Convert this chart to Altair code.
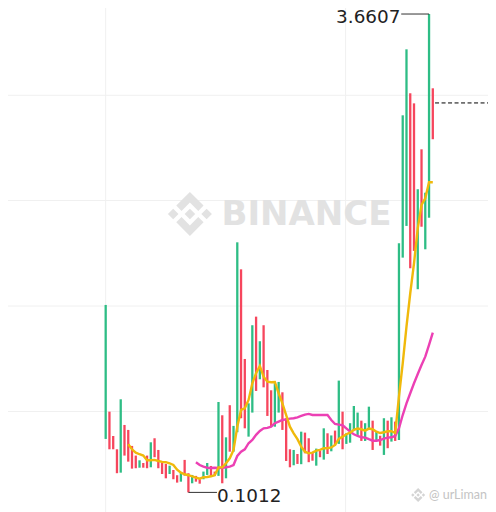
import altair as alt
import pandas as pd

tops = [1.496,0.702,0.521,0.422,0.794,0.603,0.566,0.447,0.375,0.340,0.320,0.375,0.474,0.504,0.417,0.323,0.313,0.300,0.268,0.229,
0.248,0.343,0.244,0.231,0.224,0.199,0.256,0.320,0.298,0.256,0.774,0.675,0.511,0.750,0.596,1.962,1.761,1.094,0.764,1.345,
1.409,1.226,1.345,1.012,0.861,0.913,0.923,0.846,0.653,0.422,0.417,0.387,0.553,0.546,0.504,0.400,0.427,0.410,0.578,0.541,
0.525,0.561,0.933,0.702,0.541,0.616,0.744,0.695,0.635,0.616,0.739,0.635,0.553,0.523,0.653,0.635,0.660,0.628,1.955,2.907,
3.398,3.071,2.996,2.357,2.654,2.331,3.6607,3.108]
bottoms = [0.499,0.422,0.422,0.244,0.248,0.375,0.330,0.278,0.281,0.285,0.285,0.281,0.288,0.363,0.281,0.238,0.206,0.238,0.199,0.174,
0.181,0.226,0.1012,0.169,0.181,0.166,0.199,0.231,0.218,0.224,0.224,0.169,0.206,0.404,0.404,0.549,0.653,0.578,0.516,0.695,
0.856,0.943,0.883,0.670,0.590,0.590,0.695,0.566,0.335,0.288,0.303,0.313,0.311,0.392,0.326,0.337,0.300,0.363,0.345,0.387,
0.407,0.450,0.462,0.422,0.462,0.471,0.561,0.529,0.484,0.484,0.566,0.417,0.491,0.449,0.380,0.430,0.479,0.484,0.491,1.848,
2.084,1.769,1.898,1.613,2.078,1.910,2.145,2.729]
up_candles = [0,4,9,12,17,20,23,26,27,30,32,34,35,38,39,41,45,46,50,52,56,58,60,62,64,65,66,67,69,70,72,74,76,78,79,80,83,85,86]

ma7 = [0.459,0.422,0.397,0.385,0.375,0.340,0.340,0.343,0.335,0.328,0.326,0.318,0.305,0.270,0.248,0.236,0.229,0.221,0.211,0.203,
0.214,0.216,0.221,0.229,0.287,0.288,0.318,0.355,0.417,0.590,0.715,0.727,0.789,0.913,0.988,1.042,0.962,0.925,0.921,0.923,
0.839,0.764,0.677,0.590,0.541,0.497,0.442,0.404,0.392,0.397,0.412,0.417,0.430,0.430,0.436,0.454,0.499,0.516,0.534,0.546,
0.566,0.576,0.571,0.561,0.576,0.571,0.553,0.543,0.549,0.556,0.556,0.543,0.814,1.062,1.334,1.583,1.806,2.066,2.240,2.290,
2.409,2.409]
ma25 = [0.326,0.305,0.293,0.285,0.283,0.285,0.283,0.285,0.288,0.293,0.305,0.372,0.404,0.422,0.467,0.491,0.529,0.558,0.578,0.581,
0.590,0.616,0.628,0.640,0.645,0.650,0.653,0.660,0.670,0.680,0.685,0.677,0.677,0.677,0.677,0.677,0.640,0.610,0.605,0.601,
0.578,0.553,0.534,0.521,0.511,0.509,0.497,0.486,0.486,0.491,0.501,0.509,0.511,0.521,0.578,0.677,0.764,0.839,0.913,0.982,
1.049,1.111,1.198,1.290]

grid_prices = [0.703,1.488,2.273,3.056]
grid_times = [0,63.8]
high_label = "3.6607"
low_label = "0.1012"
current_price = 2.999

LOGO = ("M0 -1L0.62 -0.38L0.38 -0.14L0 -0.52L-0.38 -0.14L-0.62 -0.38Z"
        "M0 1L0.62 0.38L0.38 0.14L0 0.52L-0.38 0.14L-0.62 0.38Z"
        "M0 -0.24L0.24 0L0 0.24L-0.24 0Z"
        "M-0.76 -0.24L-0.52 0L-0.76 0.24L-1 0Z"
        "M0.76 -0.24L1 0L0.76 0.24L0.52 0Z")

xs = alt.Scale(domain=[-25.98, 101.68], nice=False, zero=False)
ys = alt.Scale(domain=[-0.0447, 3.7055], nice=False, zero=False)
X = lambda f="i": alt.X(f, type="quantitative", scale=xs, axis=None)
Y = lambda f="v": alt.Y(f, type="quantitative", scale=ys, axis=None)

candles = pd.DataFrame({"i": range(len(tops)), "top": tops, "bottom": bottoms,
                        "dir": ["up" if i in up_candles else "down" for i in range(len(tops))]})
line7 = pd.DataFrame({"i": range(6, 6 + len(ma7)), "v": ma7})
line25 = pd.DataFrame({"i": range(24, 24 + len(ma25)), "v": ma25})

GRID = "#f0f0f0"
hgrid = alt.Chart(pd.DataFrame({"v": grid_prices})).mark_rule(color=GRID, strokeWidth=1).encode(y=Y())
vgrid = alt.Chart(pd.DataFrame({"i": grid_times})).mark_rule(color=GRID, strokeWidth=1).encode(x=X())

wm_text = alt.Chart(pd.DataFrame({"i": [30.8], "v": [2.165], "t": ["BINANCE"]})).mark_text(
    align="left", baseline="middle", font="DejaVu Sans", fontWeight="bold", fontSize=34, color="#e2e2e2"
).encode(x=X(), y=Y(), text="t:N")
wm_logo = alt.Chart(pd.DataFrame({"i": [22.4], "v": [2.173]})).mark_point(
    shape=LOGO, filled=True, color="#e2e2e2", size=1936, opacity=1
).encode(x=X(), y=Y())

bars = alt.Chart(candles).mark_rule(strokeWidth=2.3).encode(
    x=X(), y=alt.Y("top:Q", scale=ys, axis=None), y2="bottom:Q",
    color=alt.Color("dir:N", scale=alt.Scale(domain=["up", "down"], range=["#2EBD85", "#F6465D"]), legend=None))

ma7_line = alt.Chart(line7).mark_line(color="#F0B90B", strokeWidth=2.4).encode(x=X(), y=Y())
ma25_line = alt.Chart(line25).mark_line(color="#EC40B4", strokeWidth=2.4).encode(x=X(), y=Y())

high_rule = alt.Chart(pd.DataFrame({"i": [78.6], "i2": [86], "v": [3.6607]})).mark_rule(color="#333333", strokeWidth=1).encode(
    x=X(), x2="i2:Q", y=Y())
low_rule = alt.Chart(pd.DataFrame({"i": [22], "i2": [29.6], "v": [0.1012]})).mark_rule(color="#333333", strokeWidth=1).encode(
    x=X(), x2="i2:Q", y=Y())
dash_rule = alt.Chart(pd.DataFrame({"i": [87.6], "i2": [101.68], "v": [current_price]})).mark_rule(
    color="#000000", strokeWidth=1, strokeDash=[4, 2.5]).encode(x=X(), x2="i2:Q", y=Y())

high_text = alt.Chart(pd.DataFrame({"i": [78.4], "v": [3.641], "t": [high_label]})).mark_text(
    align="right", baseline="middle", font="DejaVu Sans", fontSize=18.4, color="#222222"
).encode(x=X(), y=Y(), text="t:N")
low_text = alt.Chart(pd.DataFrame({"i": [29.6], "v": [0.076], "t": [low_label]})).mark_text(
    align="left", baseline="middle", font="DejaVu Sans", fontSize=18.4, color="#222222"
).encode(x=X(), y=Y(), text="t:N")

tag_logo = alt.Chart(pd.DataFrame({"i": [83.1], "v": [0.082]})).mark_point(
    shape=LOGO, filled=True, color="#d4d4d4", size=196, opacity=1
).encode(x=X(), y=Y())
tag_text = alt.Chart(pd.DataFrame({"i": [86.0], "v": [0.082], "t": ["@ urLiman"]})).mark_text(
    align="left", baseline="middle", font="Lato", fontSize=12.5, color="#c4c4c4"
).encode(x=X(), y=Y(), text="t:N")

chart = alt.layer(hgrid, vgrid, wm_logo, wm_text, bars, ma25_line, ma7_line, high_rule, low_rule, dash_rule,
                  high_text, low_text, tag_logo, tag_text).properties(
    width=480, height=504, padding=0, autosize=alt.AutoSizeParams(type="none")
).configure_view(stroke=None)

chart.save("out.html", embed_options={"renderer": "svg", "actions": False})
